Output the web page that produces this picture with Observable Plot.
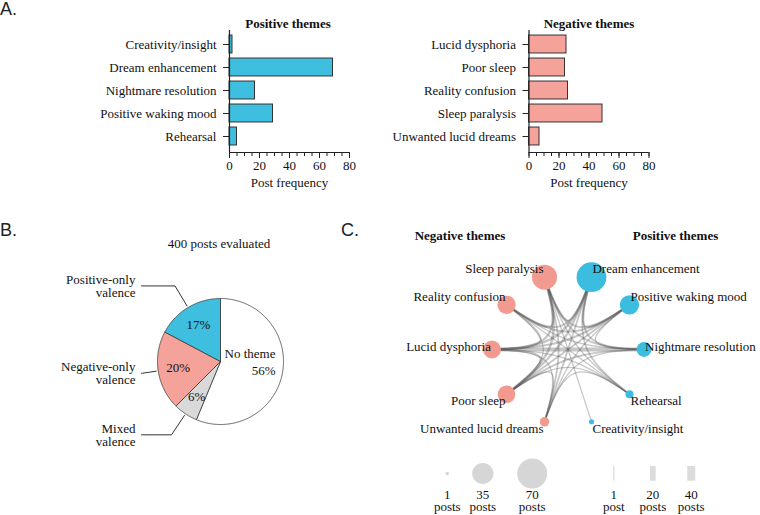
<!DOCTYPE html>
<html><head><meta charset="utf-8">
<script src="https://cdn.jsdelivr.net/npm/d3@7"></script>
<script src="https://cdn.jsdelivr.net/npm/@observablehq/plot@0.6"></script>
<style>
body{margin:0;background:#fff;}
#fig{position:relative;width:760px;height:515px;font-family:"Liberation Serif","Times New Roman",serif;color:#111;overflow:hidden;}
#fig svg{font-family:"Liberation Serif","Times New Roman",serif !important;font-size:13px;overflow:visible;}
#fig svg text{font-family:"Liberation Serif","Times New Roman",serif !important;}
.pl{position:absolute;font-family:"Liberation Sans",Arial,sans-serif;font-size:18px;line-height:18px;color:#222;}
.t{position:absolute;font-size:13px;white-space:nowrap;transform:translate(-50%,-50%);line-height:15px;}
.b{font-weight:bold;}
.box{position:absolute;}
</style></head><body><div id="fig"></div>
<script>
// ---------- data ----------
const posThemes = ["Creativity/insight","Dream enhancement","Nightmare resolution","Positive waking mood","Rehearsal"];
const posCounts = [2, 69, 17, 29, 5];
const negThemes = ["Lucid dysphoria","Poor sleep","Reality confusion","Sleep paralysis","Unwanted lucid dreams"];
const negCounts = [25, 24, 26, 49, 7];
const xTicks = [0, 20, 40, 60, 80];
const valenceCats = ["No theme","Mixed valence","Negative-only valence","Positive-only valence"];
const valenceLabels = ["No theme","Mixed\nvalence","Negative-only\nvalence","Positive-only\nvalence"];
const valenceCounts = [225, 25, 81, 69];
// network nodes clockwise from top
const nodeOrder = ["Dream enhancement","Positive waking mood","Nightmare resolution","Rehearsal","Creativity/insight",
                   "Unwanted lucid dreams","Poor sleep","Lucid dysphoria","Reality confusion","Sleep paralysis"];
// co-occurrence edges: [theme A, theme B, posts]
const edges = [
  ["Lucid dysphoria","Nightmare resolution",10],
  ["Lucid dysphoria","Dream enhancement",4],
  ["Lucid dysphoria","Positive waking mood",3],
  ["Lucid dysphoria","Sleep paralysis",3],
  ["Lucid dysphoria","Poor sleep",3],
  ["Lucid dysphoria","Reality confusion",2],
  ["Lucid dysphoria","Rehearsal",1],
  ["Lucid dysphoria","Unwanted lucid dreams",1],
  ["Sleep paralysis","Poor sleep",4],
  ["Sleep paralysis","Unwanted lucid dreams",2],
  ["Sleep paralysis","Dream enhancement",2],
  ["Sleep paralysis","Nightmare resolution",2],
  ["Sleep paralysis","Positive waking mood",2],
  ["Sleep paralysis","Rehearsal",1],
  ["Sleep paralysis","Reality confusion",2],
  ["Sleep paralysis","Creativity/insight",1],
  ["Dream enhancement","Poor sleep",3],
  ["Dream enhancement","Unwanted lucid dreams",2],
  ["Dream enhancement","Reality confusion",2],
  ["Dream enhancement","Nightmare resolution",2],
  ["Dream enhancement","Positive waking mood",2],
  ["Dream enhancement","Rehearsal",2],
  ["Poor sleep","Positive waking mood",2],
  ["Poor sleep","Nightmare resolution",2],
  ["Poor sleep","Rehearsal",1],
  ["Poor sleep","Reality confusion",1],
  ["Poor sleep","Unwanted lucid dreams",1],
  ["Positive waking mood","Reality confusion",2],
  ["Positive waking mood","Unwanted lucid dreams",1],
  ["Positive waking mood","Nightmare resolution",1],
  ["Nightmare resolution","Reality confusion",1],
  ["Nightmare resolution","Unwanted lucid dreams",1],
  ["Reality confusion","Rehearsal",1],
  ["Unwanted lucid dreams","Rehearsal",1]
];
const nodeLegendPosts = [1, 35, 70];
const edgeLegendPosts = [1, 20, 40];
const nodeLegendLabels = ["1\nposts","35\nposts","70\nposts"];
const edgeLegendLabels = ["1\npost","20\nposts","40\nposts"];

// ---------- styles ----------
const BLUE = "#3fbfdf", SALMON = "#f5a29a";
const NBLUE = "#3bbde0", NSALMON = "#f29a90";
const FONT = "Liberation Serif, Times New Roman, serif";
const STYLE = {fontFamily: FONT, fontSize: "13px", background: "transparent", color: "#111", overflow: "visible"};
const fig = document.getElementById("fig");
function place(el, left, top){ const d=document.createElement("div"); d.className="box"; d.style.left=left+"px"; d.style.top=top+"px"; d.appendChild(el); fig.appendChild(d); }
function txt(s, x, y, cls){ const d=document.createElement("div"); d.className="t "+(cls||""); d.style.left=x+"px"; d.style.top=y+"px"; d.textContent=s; fig.appendChild(d); }
function lab(s, x, y){ const d=document.createElement("div"); d.className="pl"; d.style.left=x+"px"; d.style.top=y+"px"; d.textContent=s; fig.appendChild(d); }

// ---------- A: bar charts ----------
function barChart(names, counts, fill, left){
  const data = names.map((n,i)=>({n, i, v: counts[i]}));
  const yTop = -0.609, yBot = 4.696;
  return Plot.plot({
    width: 380, height: 195,
    marginLeft: left, marginRight: 380-left-120, marginTop: 30, marginBottom: 43,
    x: {domain: [0, 80]},
    y: {domain: [yTop, yBot], reverse: true},
    style: STYLE,
    marks: [
      Plot.rect(data, {x1: 0, x2: "v", y1: d=>d.i-0.39, y2: d=>d.i+0.39, fill, stroke: "#333", strokeWidth: 1}),
      Plot.ruleX([0], {stroke: "#222", strokeWidth: 1.2}),
      Plot.ruleY([yBot], {x1: 0, x2: 80, stroke: "#222", strokeWidth: 1.2}),
      Plot.axisY(data.map(d=>d.i), {tickFormat: i=>names[i], tickSize: 6, tickPadding: 7, label: null, stroke: "#222", fontSize: 13}),
      Plot.axisX(d3.range(0, 81, 5), {tickSize: 4, tickFormat: ()=>"", label: null, stroke: "#222"}),
      Plot.axisX(xTicks, {tickSize: 6, tickPadding: 2, label: "Post frequency", labelAnchor: "center", labelArrow: "none", labelOffset: 34, stroke: "#222", fontSize: 13})
    ]
  });
}
place(barChart(posThemes, posCounts, BLUE, 229), 0, 0);
place(barChart(negThemes, negCounts, SALMON, 148.5), 380, 0);
txt("Positive themes", 288, 23, "b");
txt("Negative themes", 589, 23, "b");
lab("A.", 0, 0);

// ---------- B: pie ----------
const total = d3.sum(valenceCounts);
const arcs = d3.pie().sort(null).startAngle(0).endAngle(2*Math.PI)(valenceCounts);
const pieColors = ["#ffffff", "#d9d9d9", SALMON, BLUE];
const pt = (a, r) => [r*Math.sin(a), r*Math.cos(a)];
const pieMarks = [];
arcs.forEach((a, k) => {
  const pts = [[0,0]];
  const n = Math.max(4, Math.ceil((a.endAngle - a.startAngle)/0.01));
  for (let j=0; j<=n; j++) pts.push(pt(a.startAngle + (a.endAngle - a.startAngle)*j/n, 1));
  pts.push([0,0]);
  pieMarks.push(Plot.line(pts, {x: d=>d[0], y: d=>d[1], fill: pieColors[k], stroke: "#3a3a3a", strokeWidth: 0.8, strokeLinejoin: "round"}));
});
const pct = c => Math.round(c/total*100) + "%";
const sliceLabels = arcs.map((a,k)=>{
  const m = (a.startAngle + a.endAngle)/2;
  if (k === 0) return {x: 0.873, y: 0, t: valenceLabels[0] + "\n" + pct(valenceCounts[0]), anchor: "end"};
  const [x, y] = pt(m, 0.68);
  return {x, y, t: pct(valenceCounts[k]), anchor: "middle"};
});
const leaderR = [0, 1.4, 1.25, 1.4];
const leaders = [], outer = [];
arcs.forEach((a,k)=>{
  if (k === 0) return;
  const m = (a.startAngle + a.endAngle)/2;
  const p0 = pt(m, 1.03), p1 = pt(m, leaderR[k]);
  const p2 = [Math.min(p1[0], -1.254), p1[1]];
  leaders.push([p0, p1, p2]);
  outer.push({x: -1.35, y: p1[1], t: valenceLabels[k]});
});
const piePlot = Plot.plot({
  width: 380, height: 250,
  marginLeft: 157, marginRight: 97, marginTop: 98, marginBottom: 26,
  x: {domain: [-1, 1], axis: null},
  y: {domain: [-1, 1], axis: null},
  style: STYLE,
  marks: [
    ...pieMarks,
    ...leaders.map(l => Plot.line(l, {x: d=>d[0], y: d=>d[1], stroke: "#333", strokeWidth: 1})),
    Plot.text(sliceLabels.filter(d=>d.anchor==="middle"), {x: "x", y: "y", text: "t", fontSize: 13, fill: "#111"}),
    Plot.text(sliceLabels.filter(d=>d.anchor==="end"), {x: "x", y: "y", text: "t", textAnchor: "end", lineHeight: 1.3, fontSize: 13, fill: "#111"}),
    Plot.text(outer, {x: "x", y: "y", text: "t", textAnchor: "end", lineHeight: 1.0, fontSize: 13, fill: "#111"})
  ]
});
place(piePlot, 0, 200);
txt("400 posts evaluated", 219, 243);
lab("B.", 0, 221);

// ---------- C: network ----------
const postsOf = name => { let i = posThemes.indexOf(name); if (i>=0) return posCounts[i]; i = negThemes.indexOf(name); return negCounts[i]; };
const isPos = name => posThemes.includes(name);
const nodes = nodeOrder.map((name, k) => {
  const a = (18 + 36*k) * Math.PI/180;
  const x = Math.sin(a), y = Math.cos(a);
  return {name, x, y, posts: postsOf(name), pos: isPos(name)};
});
const nodeBy = Object.fromEntries(nodes.map(d=>[d.name, d]));
const wScale = d3.scaleSqrt().domain([0, 40]).range([0, 8]);
const edgeMarks = edges.map(([a, b, w]) => {
  const A = nodeBy[a], B = nodeBy[b];
  return Plot.line([[A.x, A.y], [0, 0], [B.x, B.y]], {x: d=>d[0], y: d=>d[1], curve: "bundle", tension: 0.9,
    stroke: "#555", strokeOpacity: 0.33, strokeWidth: wScale(w), strokeLinecap: "butt"});
});
const labelDy = d => d.y > 0.3 ? -8 : (d.y < -0.3 ? 7 : -3);
const labelMarks = [];
for (const off of [-8, -3, 7]) for (const side of [true, false]) {
  labelMarks.push(Plot.text(nodes.filter(d => labelDy(d) === off && d.pos === side), {x: "x", y: "y", text: "name",
    textAnchor: side ? "start" : "end", dx: side ? 1 : -1, dy: off, fontSize: 13, fill: "#111"}));
}
const nodeLegendX = [-1.589, -1.121, -0.471];
const edgeLegendX = [0.603, 1.116, 1.621];
const legendLabelY = -1.99;
const net = Plot.plot({
  width: 380, height: 315,
  marginLeft: 111.5, marginRight: 116.5, marginTop: 73, marginBottom: 90,
  x: {domain: [-1, 1], axis: null},
  y: {domain: [-1, 1], axis: null},
  r: {type: "sqrt", domain: [0, 70], range: [0, 15]},
  style: STYLE,
  marks: [
    ...edgeMarks,
    Plot.dot(nodes, {x: "x", y: "y", r: "posts", fill: d => d.pos ? NBLUE : NSALMON}),
    ...labelMarks,
    Plot.dot(nodeLegendPosts.map((p,i)=>({p, x: nodeLegendX[i]})), {x: "x", y: -1.632, r: "p", fill: "#d6d6d6"}),
    Plot.ruleX(edgeLegendPosts.map((p,i)=>({p, x: edgeLegendX[i]})), {x: "x", y1: -1.539, y2: -1.733, stroke: "#dcdcdc", strokeWidth: d => wScale(d.p)}),
    Plot.text(nodeLegendLabels.map((t,i)=>({t, x: nodeLegendX[i]})), {x: "x", y: legendLabelY, text: "t", lineHeight: 0.92, fontSize: 13, fill: "#111"}),
    Plot.text(edgeLegendLabels.map((t,i)=>({t, x: edgeLegendX[i]})), {x: "x", y: legendLabelY, text: "t", lineHeight: 0.92, fontSize: 13, fill: "#111"})
  ]
});
place(net, 380, 200);
txt("Negative themes", 460, 235, "b");
txt("Positive themes", 675.5, 235, "b");
lab("C.", 341, 221);
</script></body></html>
